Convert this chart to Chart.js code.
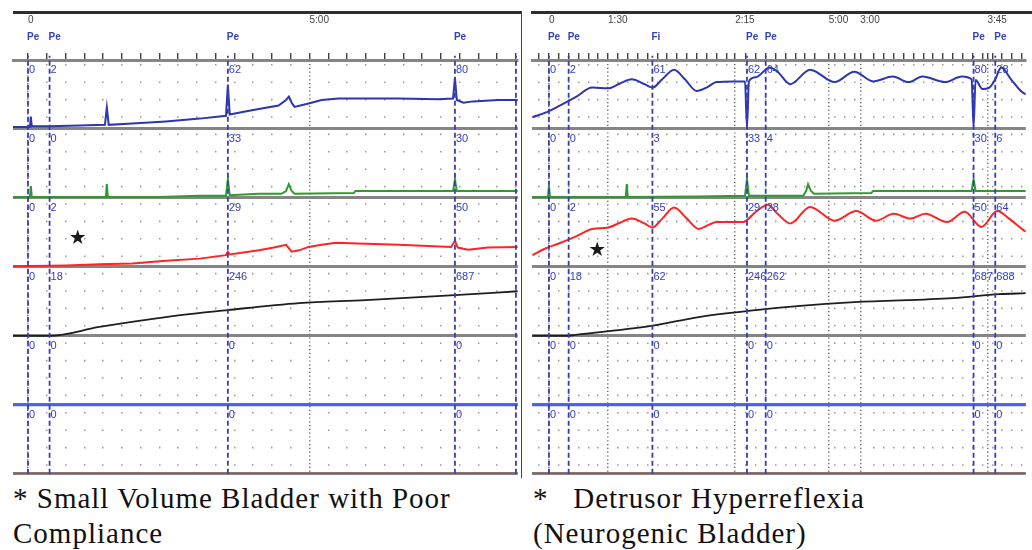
<!DOCTYPE html>
<html>
<head>
<meta charset="utf-8">
<script src="https://cdn.jsdelivr.net/npm/chart.js@4.4.1/dist/chart.umd.min.js"></script>
<style>
  body { margin: 0; background: #fff; width: 1032px; height: 550px; overflow: hidden; position: relative; }
  canvas { position: absolute; top: 0; }
  #left { left: 0; }
  #right { left: 526px; }
  .topline { position: absolute; top: 11px; height: 0; border-top: 3px solid #2e2e2e; }
  .cap { position: absolute; top: 481px; font-family: "Liberation Serif", "Times New Roman", "DejaVu Serif", serif;
         font-size: 29px; letter-spacing: 1px; line-height: 35px; color: #111; white-space: pre; }
</style>
</head>
<body>
<div class="topline" style="left:13px;width:509px"></div>
<div class="topline" style="left:531px;width:501px"></div>
<div style="position:absolute;left:521px;top:12px;width:0;height:466px;border-left:1px solid #444"></div>
<canvas id="left" width="524" height="480"></canvas>
<canvas id="right" width="506" height="480"></canvas>
<div class="cap" style="left:13px">* Small Volume Bladder with Poor
Compliance</div>
<div class="cap" style="left:533px">*   Detrusor Hyperreflexia
(Neurogenic Bladder)</div>
<script>
const BANDS = 6;
// value range of each channel band, top to bottom
const bandRanges = [[0, 100], [0, 100], [0, 100], [0, 1000], [0, 50], [0, 50]];

// ---- left tracing: small volume bladder, x in seconds ----
const leftTimeTicks = [0, 300];
const leftTimeLabels = ['0', '5:00'];
const leftMarkers = [0, 23, 213, 455, 520];
const leftMarkerNames = ['Pe', 'Pe', 'Pe', 'Pe', ''];
const leftReadouts = [
  ['0', '2', '62', '80', ''],
  ['0', '0', '33', '30', ''],
  ['0', '2', '29', '50', ''],
  ['0', '18', '246', '687', ''],
  ['0', '0', '0', '0', ''],
  ['0', '0', '0', '0', ''],
];
const leftPves = [[-16,3],[2,3],[3,18],[4,4],[23,4],[55,5],[82,6],[84,31],[86,6],[111,8],[147,11],[183,15],
  [211,19],[213,64],[215,21],[230,25],[246,29],[267,34],[275,42],[278,47],[281,38],[284,32],[299,37],[313,42],
  [331,44],[395,44],[437,43],[453,44],[455,74],[457,42],[464,38],[474,40],[501,42],[522,42]];
const leftPabd = [[-16,1.5],[2,1.5],[3,17],[4,1.5],[83,1.5],[84,20],[85,1.5],[140,1.5],[183,3],[211,3],[213,27],
  [215,4],[246,6],[270,6],[275,10],[278,20],[281,10],[284,6],[347,7],[349,10],[453,10],[455,27],[457,10],[522,10]];
const leftPdet = [[-16,1],[23,1.5],[41,2],[76,4],[111,5],[147,9],[183,12],[211,17],[213,22],[215,18],[246,24],
  [262,28],[275,32],[281,22],[289,24],[299,29],[313,32],[328,35],[352,34],[395,32],[451,29],[455,38],[458,28],
  [469,25],[490,28],[522,29]];
const leftVol = [[-16,0],[23,0],[76,130],[147,273],[213,374],[289,475],[360,518],[455,590],[522,647]];
const leftFlow = [[-16,0],[522,0]];
const leftEmg = [[-16,0],[522,0]];
const leftStar = [53, 41];

// ---- right tracing: detrusor hyperreflexia, x in recorder samples ----
const rightTimeTicks = [0, 60, 189, 284, 316, 445];
const rightTimeLabels = ['0', '1:30', '2:15', '5:00', '3:00', '3:45'];
const rightMarkers = [0, 20, 105, 201, 220, 431, 453];
const rightMarkerNames = ['Pe', 'Pe', 'Fi', 'Pe', 'Pe', 'Pe', 'Pe'];
const rightReadouts = [
  ['0', '2', '61', '62', '64', '80', '28'],
  ['0', '0', '3', '33', '4', '30', '6'],
  ['0', '2', '55', '29', '28', '50', '64'],
  ['0', '18', '62', '246', '262', '687', '688'],
  ['0', '0', '0', '0', '0', '0', '0'],
  ['0', '0', '0', '0', '0', '0', '0'],
];
const rightPves = [[-17,17],[-3,24],[10,33],[27,46],[44,60],[60,59],[72,66],[84,72],[97,65],[105,60],[115,72],
  [127,86],[138,72],[150,55],[160,60],[170,68],[187,69],[199,69],[201,2],[203,69],[210,75],[224,89],[232,83],
  [245,65],[265,86],[290,68],[310,83],[329,69],[349,76],[365,68],[379,76],[402,68],[419,76],[429,72],[431,3],
  [433,71],[440,58],[447,60],[453,72],[459,89],[469,72],[479,55],[484,50]];
const rightPabd = [[-17,1.5],[-1,1.5],[0,17],[1,1.5],[78,1.5],[79,20],[80,1.5],[152,2],[199,3],[201,27],[203,3],
  [258,3],[261,10],[263,20],[266,10],[269,6],[327,7],[329,10],[429,10],[431,27],[433,10],[484,10]];
const rightPdet = [[-17,17],[-3,27],[10,34],[27,44],[44,55],[60,57],[72,64],[84,70],[97,63],[105,57],[115,70],
  [127,86],[140,70],[152,55],[162,61],[170,65],[197,65],[210,80],[222,90],[232,77],[245,63],[265,87],[290,67],
  [312,81],[332,67],[350,77],[367,70],[382,77],[404,65],[422,80],[439,58],[455,81],[467,70],[482,53],[484,51]];
const rightVol = [[-17,0],[17,0],[27,15],[104,144],[152,273],[210,374],[252,432],[310,489],[410,547],[457,604],[484,619]];
const rightFlow = [[-17,0],[484,0]];
const rightEmg = [[-17,0],[484,0]];
const rightStar = [49, 24];

Chart.defaults.font.family = '"Liberation Sans", Arial, sans-serif';

function bandScale(k) {
  const [lo, hi] = bandRanges[k];
  const span = hi - lo;
  return { display: false, min: lo - (BANDS - 1 - k) * span, max: hi + k * span };
}

function tickList(min, max, step, majors) {
  const out = majors.slice();
  for (let v = Math.ceil(min / step) * step; v <= max; v += step) {
    if (!majors.some(m => Math.abs(m - v) < step / 2.2)) out.push(v);
  }
  return out.sort((a, b) => a - b);
}

function overlay(p) {
  return {
    id: 'overlay',
    afterDatasetsDraw(chart) {
      const { ctx, scales } = chart;
      const xs = scales.x, g = scales.yg;
      ctx.save();
      ctx.textBaseline = 'middle';
      ctx.textAlign = 'left';
      ctx.fillStyle = '#3442b8';
      p.markers.forEach((t, i) => {
        const px = xs.getPixelForValue(t);
        ctx.font = 'bold 10px "Liberation Sans"';
        ctx.fillText(p.names[i], px - 1, g.getPixelForValue(BANDS) - 23);
        ctx.font = '11px "Liberation Sans"';
        p.readouts.forEach((row, k) => {
          ctx.fillText(row[i], px + 1, g.getPixelForValue(BANDS - k) + 10);
        });
      });
      ctx.font = '20px "DejaVu Sans"';
      ctx.textAlign = 'center';
      ctx.fillStyle = '#1a1a1a';
      ctx.fillText('\u2605', xs.getPixelForValue(p.star[0]), scales.y2.getPixelForValue(p.star[1]));
      ctx.restore();
    }
  };
}

function buildChart(id, p) {
  const isMajor = v => p.timeTicks.includes(v);
  const traces = [
    { pts: p.emg, band: 5, color: '#c23b3b', width: 2 },
    { pts: p.flow, band: 4, color: '#4b60f0', width: 3 },
    { pts: p.vol, band: 3, color: '#1e1e1e', width: 1.8, smooth: true },
    { pts: p.pdet, band: 2, color: '#ff2424', width: 2, smooth: p.smooth },
    { pts: p.pabd, band: 1, color: '#2f9a2f', width: 2 },
    { pts: p.pves, band: 0, color: '#2b36b0', width: 2, smooth: p.smooth },
  ].map(s => ({
    data: s.pts.map(([x, y]) => ({ x, y })),
    yAxisID: 'y' + s.band,
    borderColor: s.color,
    borderWidth: s.width,
    pointRadius: 0,
    cubicInterpolationMode: s.smooth ? 'monotone' : 'default',
    tension: 0,
  }));

  const datasets = [
    {
      data: p.markers.flatMap(t => [{ x: t, y: 0 }, { x: t, y: BANDS + 0.06 }, { x: t, y: null }]),
      yAxisID: 'yg', borderColor: '#3a3cb6', borderWidth: 1.8, borderDash: [5, 3],
      pointRadius: 0, spanGaps: false, clip: false,
    },
    {
      data: p.markers.map(t => ({ x: t, y: BANDS + 0.151 })),
      yAxisID: 'yg', showLine: false, pointStyle: 'triangle', pointRadius: 5,
      pointBorderColor: '#222', pointBorderWidth: 1.2,
      pointBackgroundColor: ctx => p.filled.includes(ctx.dataIndex) ? '#222' : '#fff',
      pointRotation: ctx => p.names[ctx.dataIndex] === 'Fi' ? 180 : 0,
      clip: false,
    },
    ...traces,
  ];

  const scales = {
    x: {
      type: 'linear', position: 'top', min: p.xMin, max: p.xMax,
      afterBuildTicks: s => { s.ticks = tickList(p.xMin, p.xMax, p.step, p.timeTicks).map(v => ({ value: v })); },
      afterFit: s => { s.height = 48; s.paddingLeft = 0; s.paddingRight = 0; },
      ticks: {
        autoSkip: false, maxRotation: 0, minRotation: 0, align: 'start', padding: 27,
        color: '#444', font: { size: 10 },
        callback: v => { const i = p.timeTicks.indexOf(v); return i >= 0 ? p.timeLabels[i] : ''; },
      },
      grid: {
        color: ctx => ctx.tick && isMajor(ctx.tick.value) ? '#6e6e6e' : '#9a9a9a',
        lineWidth: 1.5, tickLength: 7, tickColor: '#222', tickWidth: 1.2,
      },
      border: {
        display: true, color: '#858585', width: 3,
        dash: ctx => ctx.tick && isMajor(ctx.tick.value) ? [1.2, 2.6] : [1.6, 15.8],
        dashOffset: -2,
      },
    },
    yg: {
      type: 'linear', position: 'left', min: 0, max: BANDS,
      afterBuildTicks: s => { s.ticks = bandRanges.map((r, k) => ({ value: k })).concat([{ value: BANDS }]); },
      afterFit: s => { s.width = 0; },
      ticks: { display: false },
      grid: { color: '#858585', lineWidth: 3, drawTicks: false },
      border: { display: false },
    },
  };
  bandRanges.forEach((r, k) => { scales['y' + k] = bandScale(k); });

  return new Chart(document.getElementById(id), {
    type: 'line',
    data: { datasets },
    options: {
      responsive: false, animation: false, events: [],
      layout: { padding: p.padding },
      scales,
      plugins: { legend: { display: false }, tooltip: { enabled: false } },
    },
    plugins: [overlay(p)],
  });
}

buildChart('left', {
  xMin: -16, xMax: 522, step: 20, padding: { left: 13, right: 4, top: 12, bottom: 2 },
  timeTicks: leftTimeTicks, timeLabels: leftTimeLabels,
  markers: leftMarkers, names: leftMarkerNames, readouts: leftReadouts, filled: [0],
  pves: leftPves, pabd: leftPabd, pdet: leftPdet, vol: leftVol, flow: leftFlow, emg: leftEmg,
  star: leftStar, smooth: false,
});

buildChart('right', {
  xMin: -17, xMax: 484, step: 10, padding: { left: 5, right: 0, top: 12, bottom: 2 },
  timeTicks: rightTimeTicks, timeLabels: rightTimeLabels,
  markers: rightMarkers, names: rightMarkerNames, readouts: rightReadouts, filled: [0, 4],
  pves: rightPves, pabd: rightPabd, pdet: rightPdet, vol: rightVol, flow: rightFlow, emg: rightEmg,
  star: rightStar, smooth: true,
});
</script>
</body>
</html>
